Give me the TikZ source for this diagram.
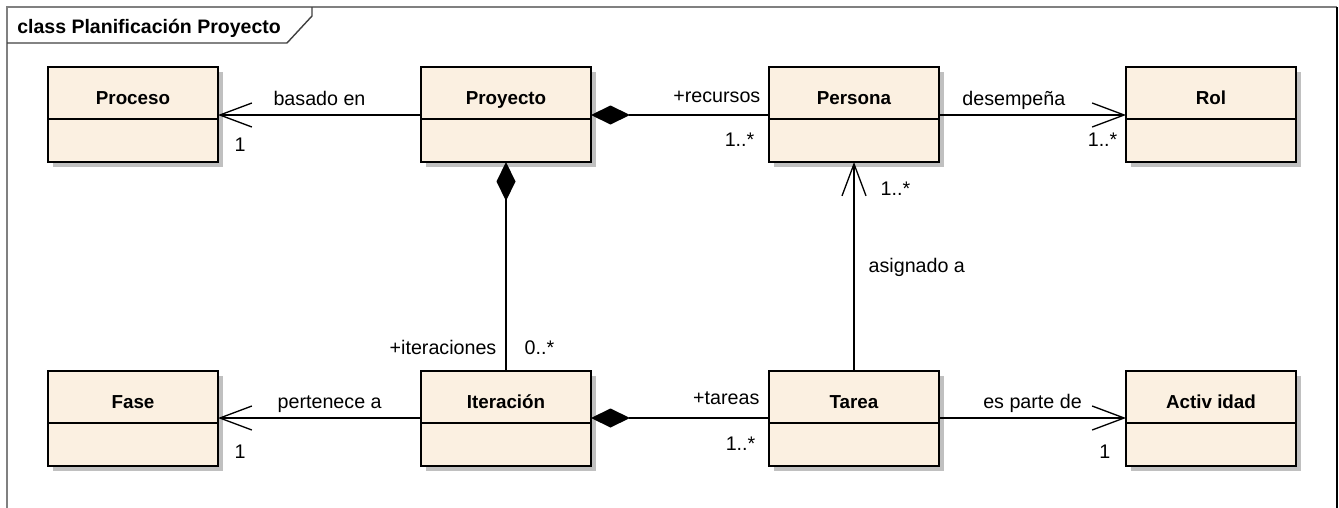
\documentclass[tikz,border=0pt]{standalone}
\usepackage{fontspec}
\setmainfont{Liberation Sans}
\usetikzlibrary{arrows.meta, positioning, shadows}

\definecolor{claseFondo}{RGB}{251,240,225}
\definecolor{sombra}{RGB}{192,192,192}
\definecolor{marco}{RGB}{128,128,128}

\begin{document}
\begin{tikzpicture}[
    font=\fontsize{11.2}{13}\selectfont,
    nombre/.style={
        rectangle,
        draw=black,
        fill=claseFondo,
        line width=1.05pt,
        minimum width=3.4cm,
        minimum height=1.04cm,
        text height=0.44cm,
        text depth=0pt,
        outer sep=0pt,
        font=\fontsize{10.7}{12}\selectfont\bfseries,
        drop shadow={shadow xshift=0.1cm, shadow yshift=-0.1cm, fill=sombra, opacity=1}
    },
    atrib/.style={
        nombre,
        minimum height=0.86cm
    },
    asoc/.style={
        draw=black,
        line width=0.75pt,
        -{Straight Barb[length=0.64cm, width=0.48cm]}
    },
    compos/.style={
        draw=black,
        line width=0.75pt,
        {Diamond[length=0.78cm, width=0.38cm]}-
    },
    etiq/.style={
        inner sep=0pt,
        font=\fontsize{11.2}{13}\selectfont
    }
]

\useasboundingbox (0,0) rectangle (26.78,-10.16);

% Frame and title tab
\draw[marco, line width=0.8pt] (0.14,-10.16) -- (0.14,-0.14) -- (26.74,-0.14);
\draw[black, line width=1pt] (26.74,-0.14) -- (26.74,-10.16);
\draw[black!75, line width=0.8pt] (0.14,-0.86) -- (5.74,-0.86) -- (6.24,-0.32) -- (6.24,-0.14);
\node[anchor=base west, inner sep=0pt, font=\fontsize{11.1}{12}\selectfont\bfseries] (titulo) at (0.34,-0.66) {class Planificación Proyecto};

% Top row
\node[nombre] (proceso) at (2.66,-1.86) {Proceso};
\node[atrib, below=0pt of proceso] (proceso-at) {};
\node[nombre, right=4.06cm of proceso] (proyecto) {Proyecto};
\node[atrib, below=0pt of proyecto] (proyecto-at) {};
\node[nombre, right=3.56cm of proyecto] (persona) {Persona};
\node[atrib, below=0pt of persona] (persona-at) {};
\node[nombre, right=3.74cm of persona] (rol) {Rol};
\node[atrib, below=0pt of rol] (rol-at) {};

% Bottom row
\node[nombre, below=4.18cm of proceso-at] (fase) {Fase};
\node[atrib, below=0pt of fase] (fase-at) {};
\node[nombre, below=4.18cm of proyecto-at] (iteracion) {Iteración};
\node[atrib, below=0pt of iteracion] (iteracion-at) {};
\node[nombre, below=4.18cm of persona-at] (tarea) {Tarea};
\node[atrib, below=0pt of tarea] (tarea-at) {};
\node[nombre, below=4.18cm of rol-at] (actividad) {Activ idad};
\node[atrib, below=0pt of actividad] (actividad-at) {};

% Associations, top row
\draw[asoc] ([yshift=0.08cm]proyecto.south west) -- ([yshift=0.08cm]proceso.south east)
    node[etiq, pos=0.5, anchor=base, yshift=0.2cm] {basado en}
    node[etiq, pos=1, anchor=base west, xshift=0.32cm, yshift=-0.72cm] {1};
\draw[compos] ([yshift=0.08cm]proyecto.south east) -- ([yshift=0.08cm]persona.south west)
    node[etiq, pos=1, anchor=base east, xshift=-0.16cm, yshift=0.26cm] {+recursos}
    node[etiq, pos=1, anchor=base east, xshift=-0.28cm, yshift=-0.62cm] {1..*};
\draw[asoc] ([yshift=0.08cm]persona.south east) -- ([yshift=0.08cm]rol.south west)
    node[etiq, pos=0.4, anchor=base, yshift=0.2cm] {desempeña}
    node[etiq, pos=1, anchor=base east, xshift=-0.16cm, yshift=-0.62cm] {1..*};

% Vertical links
\draw[compos] (proyecto-at.south) -- (iteracion.north)
    node[etiq, pos=1, anchor=base east, xshift=-0.18cm, yshift=0.34cm] {+iteraciones}
    node[etiq, pos=1, anchor=base west, xshift=0.36cm, yshift=0.34cm] {0..*};
\draw[asoc] (tarea.north) -- (persona-at.south)
    node[etiq, pos=0.47, anchor=base west, xshift=0.28cm] {asignado a}
    node[etiq, pos=1, anchor=base west, xshift=0.52cm, yshift=-0.66cm] {1..*};

% Associations, bottom row
\draw[asoc] ([yshift=0.1cm]iteracion.south west) -- ([yshift=0.1cm]fase.south east)
    node[etiq, pos=0.45, anchor=base, yshift=0.2cm] {pertenece a}
    node[etiq, pos=1, anchor=base west, xshift=0.32cm, yshift=-0.8cm] {1};
\draw[compos] ([yshift=0.1cm]iteracion.south east) -- ([yshift=0.1cm]tarea.south west)
    node[etiq, pos=1, anchor=base east, xshift=-0.18cm, yshift=0.28cm] {+tareas}
    node[etiq, pos=1, anchor=base east, xshift=-0.26cm, yshift=-0.64cm] {1..*};
\draw[asoc] ([yshift=0.1cm]tarea.south east) -- ([yshift=0.1cm]actividad.south west)
    node[etiq, pos=0.5, anchor=base, yshift=0.2cm] {es parte de}
    node[etiq, pos=1, anchor=base east, xshift=-0.3cm, yshift=-0.8cm] {1};

\end{tikzpicture}
\end{document}
